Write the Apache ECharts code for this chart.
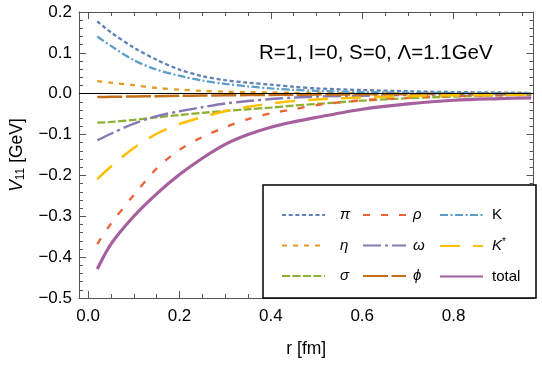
<!DOCTYPE html>
<html><head><meta charset="utf-8">
<script src="https://cdn.jsdelivr.net/npm/echarts@6/dist/echarts.min.js"></script>
<style>html,body{margin:0;padding:0;background:#fff}#c{width:542px;height:365px}</style>
</head><body><div id="c"></div>
<script>
const r = [0.02,0.05,0.1,0.15,0.2,0.25,0.3,0.35,0.4,0.45,0.5,0.6,0.7,0.8,0.9,0.97];
const vPi    = [0.177,0.150,0.113,0.083,0.059,0.043,0.033,0.027,0.022,0.017,0.013,0.009,0.006,0.004,0.003,0.002];
const vK     = [0.140,0.117,0.082,0.059,0.044,0.032,0.024,0.018,0.013,0.0095,0.007,0.004,0.0025,0.0015,0.001,0.0007];
const vEta   = [0.031,0.027,0.021,0.014,0.010,0.007,0.005,0.004,0.003,0.0023,0.0018,0.001,0.0007,0.0004,0.0003,0.0002];
const vPhi   = [-0.008,-0.0076,-0.0068,-0.006,-0.0052,-0.0045,-0.0039,-0.0034,-0.0029,-0.0025,-0.0021,-0.0015,-0.0011,-0.0008,-0.0006,-0.0005];
const vSigma = [-0.071,-0.069,-0.064,-0.058,-0.052,-0.047,-0.042,-0.038,-0.034,-0.029,-0.025,-0.017,-0.011,-0.007,-0.004,-0.003];
const vOmega = [-0.114,-0.098,-0.073,-0.055,-0.043,-0.033,-0.024,-0.018,-0.013,-0.0095,-0.007,-0.005,-0.003,-0.002,-0.0015,-0.001];
const vKstar = [-0.209,-0.178,-0.133,-0.098,-0.074,-0.057,-0.043,-0.032,-0.024,-0.018,-0.014,-0.009,-0.006,-0.004,-0.003,-0.002];
const vRho   = [-0.368,-0.318,-0.248,-0.183,-0.137,-0.106,-0.082,-0.062,-0.048,-0.038,-0.028,-0.016,-0.010,-0.006,-0.004,-0.003];
const vTotal = [-0.429,-0.368,-0.300,-0.245,-0.198,-0.158,-0.124,-0.100,-0.082,-0.069,-0.058,-0.038,-0.025,-0.016,-0.012,-0.010];

const xMajor = [0,0.2,0.4,0.6,0.8];
const xMinor = [0,0.05,0.1,0.15,0.2,0.25,0.3,0.35,0.4,0.45,0.5,0.55,0.6,0.65,0.7,0.75,0.8,0.85,0.9,0.95];
const annotation = 'R=1, I=0, S=0, \u039B=1.1GeV';

const FONT = '"Liberation Sans", Arial, sans-serif';
const FRAME = '#555';

const pairs = v => r.map((x,i)=>[x,v[i]]);
function mk(name, v, color, type, width){
  return {name, type:'line', data:pairs(v), smooth:0.3, symbol:'none',
    lineStyle:{color, width, type, cap:'butt'}, itemStyle:{color}, silent:true, z:3};
}
const series = [
  mk('\u03C0', vPi, '#5E81B5', [4,2.7], 2.3),
  mk('\u03B7', vEta, '#E19C24', [5,6], 2.3),
  mk('\u03C3', vSigma, '#8FB032', [8,2.5], 2.3),
  mk('\u03C1', vRho, '#EB6235', [7,11], 2.3),
  mk('\u03C9', vOmega, '#8778B3', [18,4,3,4], 2.4),
  mk('\u03D5', vPhi, '#C56E1A', [25,3.5], 2.5),
  mk('K', vK, '#5D9EC7', [8,2.5,2,2.5], 2.3),
  mk('K*', vKstar, '#FFBF00', [20,13], 2.5),
  mk('total', vTotal, '#A5609D', 'solid', 3.2)
];
series[8].markLine = {silent:true, symbol:'none', label:{show:false},
  lineStyle:{color:'#000', width:1, type:'solid'}, data:[{yAxis:0}]};

const greek = ['\u03C0','\u03B7','\u03C3','\u03C1','\u03C9','\u03D5'];
const legRich = {i:{fontStyle:'italic', fontSize:15, fontFamily:FONT, color:'#000'},
                 s:{fontSize:10, fontFamily:FONT, color:'#000', padding:[0,0,7,0]}};
const legFmt = n => n==='K*' ? '{i|K}{s|*}' : (greek.includes(n) ? '{i|'+n+'}' : n);
function leg(data, left, pad){
  return {data, orient:'vertical', left, top:202, itemWidth:43, itemHeight:16, itemGap:14.5,
    formatter:legFmt, selectedMode:false, z:6,
    itemStyle:{color:'transparent', borderWidth:0, opacity:0},
    textStyle:{fontSize:15, fontFamily:FONT, color:'#000', lineHeight:16, padding:[0,0,0,pad], rich:legRich}};
}

const xBase = {type:'value', min:-0.02, max:0.975, gridIndex:0, splitLine:{show:false}};
const option = {
  animation:false,
  backgroundColor:'#fff',
  grid:{left:76, right:8.5, top:12, bottom:67, containLabel:false},
  xAxis:[
    Object.assign({}, xBase, {position:'bottom',
      axisLine:{show:true, onZero:false, lineStyle:{color:FRAME, width:1}},
      axisTick:{show:true, inside:true, length:7, customValues:xMajor, lineStyle:{color:FRAME}},
      axisLabel:{show:true, customValues:xMajor, margin:10, fontSize:17, fontFamily:FONT, color:'#000',
        formatter:v=>v.toFixed(1)},
      name:'r [fm]', nameLocation:'middle', nameGap:42,
      nameTextStyle:{fontSize:17.5, fontFamily:FONT, color:'#000'}}),
    Object.assign({}, xBase, {position:'bottom',
      axisLine:{show:false, onZero:false},
      axisTick:{show:true, inside:true, length:4, customValues:xMinor, lineStyle:{color:FRAME}},
      axisLabel:{show:false}}),
    Object.assign({}, xBase, {position:'top',
      axisLine:{show:true, onZero:false, lineStyle:{color:FRAME, width:1}},
      axisTick:{show:true, inside:true, length:7, customValues:xMajor, lineStyle:{color:FRAME}},
      axisLabel:{show:false}}),
    Object.assign({}, xBase, {position:'top',
      axisLine:{show:false, onZero:false},
      axisTick:{show:true, inside:true, length:4, customValues:xMinor, lineStyle:{color:FRAME}},
      axisLabel:{show:false}})
  ],
  yAxis:[
    {type:'value', min:-0.5, max:0.2, interval:0.1, position:'left', splitLine:{show:false},
      axisLine:{show:true, onZero:false, lineStyle:{color:FRAME, width:1}},
      axisTick:{show:true, inside:true, length:7, lineStyle:{color:FRAME}},
      minorTick:{show:true, splitNumber:5, length:4, lineStyle:{color:FRAME}},
      axisLabel:{margin:7, fontSize:17, fontFamily:FONT, color:'#000',
        formatter:v=>(v< -1e-9?'\u2212':'')+Math.abs(v).toFixed(1)},
      name:'{i|V}{sub|11} [GeV]', nameLocation:'middle', nameGap:52, nameRotate:90,
      nameTextStyle:{fontSize:17.5, fontFamily:FONT, color:'#000',
        rich:{i:{fontStyle:'italic', fontSize:17.5, fontFamily:FONT, color:'#000'},
              sub:{fontSize:12, fontFamily:FONT, color:'#000', padding:[8,0,0,0]}}}},
    {type:'value', min:-0.5, max:0.2, interval:0.1, position:'right', splitLine:{show:false},
      axisLine:{show:true, onZero:false, lineStyle:{color:FRAME, width:1}},
      axisTick:{show:true, inside:true, length:7, lineStyle:{color:FRAME}},
      minorTick:{show:true, splitNumber:5, length:4, lineStyle:{color:FRAME}},
      axisLabel:{show:false}}
  ],
  legend:[
    leg(['\u03C0','\u03B7','\u03C3'], 276, 10),
    leg(['\u03C1','\u03C9','\u03D5'], 357, 2),
    leg(['K','K*','total'], 434, 4)
  ],
  graphic:[
    {type:'rect', z:5, silent:true, shape:{x:263, y:185, width:273, height:113},
      style:{fill:'#fff', stroke:'#000', lineWidth:1.5}},
    {type:'text', z:5, silent:true, x:259, y:53,
      style:{text:annotation, font:'20.5px "Liberation Sans", Arial, sans-serif', fill:'#000', verticalAlign:'middle'}}
  ],
  series
};
const chart = echarts.init(document.getElementById('c'), null, {renderer:'canvas'});
chart.setOption(option);
</script></body></html>
